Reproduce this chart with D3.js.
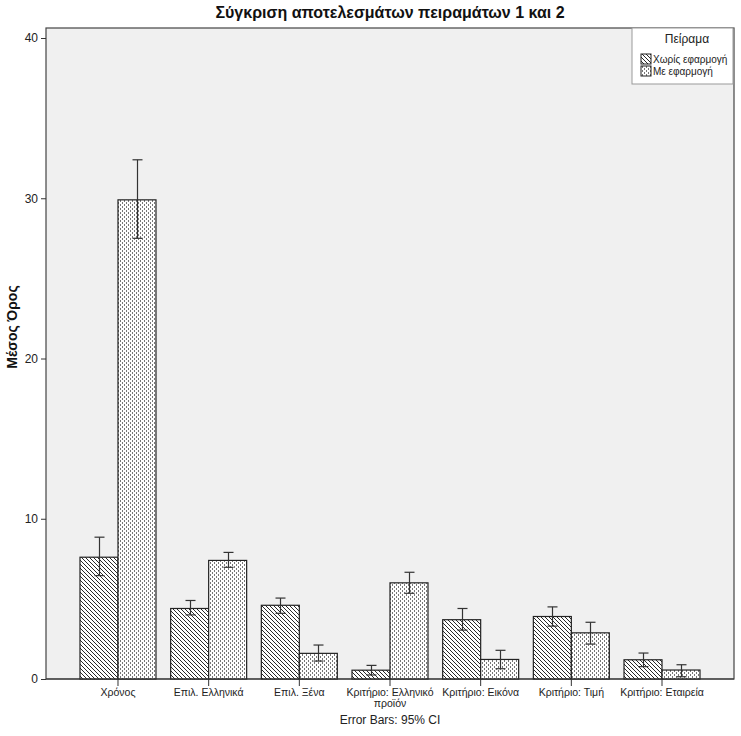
<!DOCTYPE html>
<html><head><meta charset="utf-8">
<script src="https://cdn.jsdelivr.net/npm/d3@7"></script>
<style>body{margin:0;background:#fff}svg{display:block;font-family:Arial,"Liberation Sans",sans-serif}</style>
</head><body><svg id="c" width="741" height="736"></svg>
<script>
const categories = ["Χρόνος","Επιλ. Ελληνικά","Επιλ. Ξένα","Κριτήριο: Ελληνικό προϊόν","Κριτήριο: Εικόνα","Κριτήριο: Τιμή","Κριτήριο: Εταιρεία"];
const seriesNames = ["Χωρίς εφαρμογή","Με εφαρμογή"];
const meanWithout = [7.6, 4.4, 4.6, 0.55, 3.7, 3.9, 1.2];
const lowWithout  = [6.45, 4.0, 4.1, 0.25, 3.05, 3.3, 0.77];
const highWithout = [8.85, 4.9, 5.05, 0.85, 4.4, 4.5, 1.62];
const meanWith = [29.9, 7.4, 1.6, 6.0, 1.22, 2.88, 0.56];
const lowWith  = [27.5, 6.97, 1.12, 5.35, 0.64, 2.18, 0.14];
const highWith = [32.4, 7.9, 2.12, 6.66, 1.79, 3.54, 0.89];
const yTicks = [0,10,20,30,40];

const svg = d3.select("#c");
const L=46,R=734,T=28,B=679;
const y = d3.scaleLinear().domain([0,40]).range([679,38]);
const x0 = d3.scaleBand().domain(categories).range([L,R]).paddingInner(0.162).paddingOuter(0.375);
const x1 = d3.scaleBand().domain(seriesNames).range([0,x0.bandwidth()]);

const defs = svg.append("defs");
const ph = defs.append("pattern").attr("id","hatch").attr("patternUnits","userSpaceOnUse").attr("width",4).attr("height",4);
ph.append("rect").attr("width",4).attr("height",4).attr("fill","#fff");
ph.append("path").attr("d","M0,0L4,4M-1,3L1,5M3,-1L5,1").attr("stroke","#111").attr("stroke-width",0.9);
const pd = defs.append("pattern").attr("id","dots").attr("patternUnits","userSpaceOnUse").attr("width",4).attr("height",4);
pd.append("rect").attr("width",4).attr("height",4).attr("fill","#fff");
pd.append("rect").attr("x",0).attr("y",0).attr("width",1).attr("height",2).attr("fill","#777");
pd.append("rect").attr("x",2).attr("y",2).attr("width",1).attr("height",2).attr("fill","#777");

// plot background
svg.append("rect").attr("x",L).attr("y",T).attr("width",R-L).attr("height",B-T).attr("fill","#f0f0f0").attr("stroke","#444").attr("stroke-width",1.2);

const series = [
 {name:seriesNames[0], mean:meanWithout, lo:lowWithout, hi:highWithout, fill:"url(#hatch)"},
 {name:seriesNames[1], mean:meanWith, lo:lowWith, hi:highWith, fill:"url(#dots)"}
];
series.forEach(s=>{
  const g = svg.append("g");
  g.selectAll("rect").data(categories).join("rect")
    .attr("x",c=>x0(c)+x1(s.name)).attr("y",(c,i)=>y(s.mean[i]))
    .attr("width",x1.bandwidth()).attr("height",(c,i)=>y(0)-y(s.mean[i]))
    .attr("fill",s.fill).attr("stroke","#222").attr("stroke-width",1.2);
});
series.forEach(s=>{
  const g = svg.append("g").attr("stroke","#333").attr("stroke-width",1.2);
  categories.forEach((c,i)=>{
    const cx = Math.round(x0(c)+x1(s.name)+x1.bandwidth()/2)+0.5;
    g.append("line").attr("x1",cx).attr("x2",cx).attr("y1",y(s.lo[i])).attr("y2",y(s.hi[i]));
    g.append("line").attr("x1",cx-5).attr("x2",cx+5).attr("y1",y(s.lo[i])).attr("y2",y(s.lo[i]));
    g.append("line").attr("x1",cx-5).attr("x2",cx+5).attr("y1",y(s.hi[i])).attr("y2",y(s.hi[i]));
  });
});

// y axis
const ya = svg.append("g").attr("transform",`translate(${L},0)`)
  .call(d3.axisLeft(y).tickValues(yTicks).tickSize(5).tickFormat(d3.format("d")));
ya.select(".domain").remove();
ya.selectAll("line").attr("stroke","#333");
ya.selectAll("text").attr("font-size",12).attr("fill","#222").attr("font-family","Arial,'Liberation Sans',sans-serif");

// x axis
svg.append("line").attr("x1",L).attr("x2",R).attr("y1",B).attr("y2",B).attr("stroke","#333").attr("stroke-width",1.2);
const xa = svg.append("g").attr("transform",`translate(0,${B})`)
  .call(d3.axisBottom(x0).tickSize(7).tickSizeOuter(0));
xa.select(".domain").remove();
xa.selectAll("line").attr("stroke","#333");
xa.selectAll("text").attr("font-size",10.5).attr("fill","#222").attr("font-family","Arial,'Liberation Sans',sans-serif")
  .each(function(d){
    const t=d3.select(this);
    if(d==="Κριτήριο: Ελληνικό προϊόν"){
      t.text(null);
      t.append("tspan").attr("x",0).attr("dy","0.71em").text("Κριτήριο: Ελληνικό");
      t.append("tspan").attr("x",0).attr("dy","1.0em").text("προϊόν");
      t.attr("dy",null);
    }
  });

// title & labels
svg.append("text").attr("x",390).attr("y",18).attr("text-anchor","middle").attr("font-size",16).attr("font-weight","bold").attr("fill","#111")
  .text("Σύγκριση αποτελεσμάτων πειραμάτων 1 και 2");
svg.append("text").attr("transform","translate(17,327) rotate(-90)").attr("text-anchor","middle").attr("font-size",14).attr("font-weight","bold").attr("fill","#111")
  .text("Μέσος Όρος");
svg.append("text").attr("x",390).attr("y",724).attr("text-anchor","middle").attr("font-size",12).attr("fill","#222").text("Error Bars: 95% CI");

// legend
const lg = svg.append("g");
lg.append("rect").attr("x",632).attr("y",28).attr("width",101).attr("height",56).attr("fill","#fff").attr("stroke","#999");
lg.append("text").attr("x",687).attr("y",43).attr("text-anchor","middle").attr("font-size",12).attr("fill","#222").text("Πείραμα");
series.forEach((s,i)=>{
  lg.append("rect").attr("x",641).attr("y",54+i*12).attr("width",10).attr("height",10).attr("fill",s.fill).attr("stroke","#222");
  lg.append("text").attr("x",653).attr("y",63+i*12).attr("font-size",10).attr("fill","#222").text(s.name);
});
</script></body></html>
